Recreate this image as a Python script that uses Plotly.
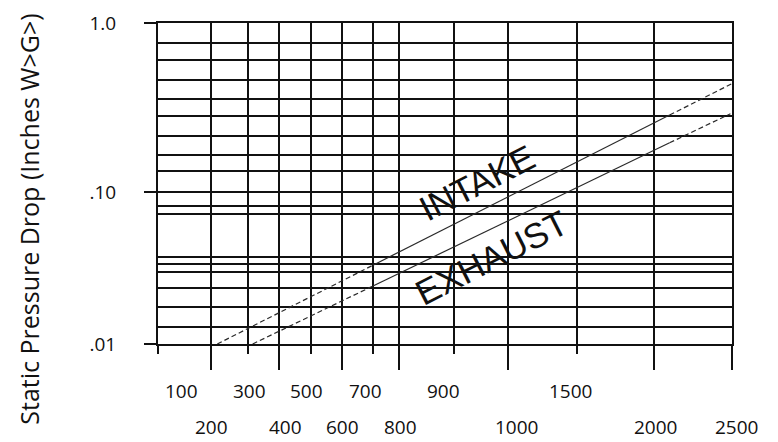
import numpy as np
import plotly.graph_objects as go

# ---------------- data ----------------
cfm_ticks = [100, 200, 300, 400, 500, 600, 700, 800, 900, 1000, 1500, 2000, 2500]
top_row_cfm = [100, 300, 500, 700, 900, 1500]
bottom_row_cfm = [200, 400, 600, 800, 1000, 2000, 2500]

pressure_grid = [0.01, 0.02, 0.03, 0.04, 0.05, 0.06, 0.07, 0.08, 0.09,
                 0.1, 0.2, 0.3, 0.4, 0.5, 0.6, 0.7, 0.8, 0.9, 1.0]
pressure_tick_vals = [0.01, 0.1, 1.0]
pressure_tick_text = [".01", ".10", "1.0"]

intake_cfm = [217, 700, 2100, 2500]
intake_dp = [0.01, 0.0582, 0.504, 0.68]
exhaust_cfm = [315, 700, 2100, 2490]
exhaust_dp = [0.01, 0.0411, 0.365, 0.512]

# ------------- layout of the hand-drawn chart grid (axis units) -------------
XMAX, YMAX = 574.0, 321.0
x_grid_pos = [0, 53, 90, 121, 153, 184, 215, 241, 296, 350, 419, 496, 574]
y_grid_pos = [0, 17.3, 36.6, 56.3, 72, 80.3, 87, 130, 138.3,
              152, 172.6, 189.3, 207.6, 228.3, 244.6, 264.3, 284.3, 301, 321]
x_label_shift = {100: 23.7, 300: 1, 500: -4.3, 700: -8, 900: -11, 1500: -7,
                 200: 0.7, 400: 6, 600: 0.7, 800: 1, 1000: 8, 2000: 1, 2500: 4.7}


def xmap(v):
    return np.interp(v, cfm_ticks, x_grid_pos)


def ymap(v):
    return np.interp(v, pressure_grid, y_grid_pos)


INK = "#111111"
LINE_INK = "#2a2a2a"
XR = [0, XMAX]
YR = [0, YMAX]

fig = go.Figure()


def add_curve(cfm, dp, xa, ya):
    xs = xmap(cfm)
    ys = ymap(dp)
    segs = [(0, 2, "5px,3px"), (1, 3, "solid"), (2, 4, "5px,3px")]
    for a, b, d in segs:
        fig.add_trace(go.Scatter(
            x=xs[a:b], y=ys[a:b], mode="lines", xaxis=xa, yaxis=ya,
            line=dict(color=LINE_INK, width=1.2, dash=d),
            showlegend=False, hoverinfo="skip"))


add_curve(intake_cfm, intake_dp, "x", "y")
add_curve(exhaust_cfm, exhaust_dp, "x2", "y2")

grid_common = dict(showgrid=True, gridcolor=INK, gridwidth=1.6, zeroline=False,
                   showline=True, linecolor=INK, linewidth=1.6, mirror=True,
                   tickcolor=INK, tickwidth=1.6, fixedrange=True,
                   automargin=False)

# the page body adds an 8px offset, so the figure is 8px smaller than the window
fig.update_layout(
    template="none",
    width=770, height=434,
    margin=dict(l=150, r=46, t=15, b=98),
    paper_bgcolor="white", plot_bgcolor="white",
    xaxis=dict(range=XR, tickmode="array",
               tickvals=list(xmap(top_row_cfm)), ticks="outside", ticklen=8,
               showticklabels=False, **grid_common),
    xaxis2=dict(range=XR, overlaying="x", anchor="y", side="bottom",
                tickmode="array", tickvals=list(xmap(bottom_row_cfm)),
                ticks="outside", ticklen=24, showticklabels=False,
                **grid_common),
    yaxis=dict(range=YR, tickmode="array", tickvals=list(ymap(pressure_grid)),
               ticks="", showticklabels=False, **grid_common),
    yaxis2=dict(range=YR, overlaying="y", anchor="x", side="left",
                tickmode="array", tickvals=list(ymap(pressure_tick_vals)),
                ticktext=pressure_tick_text, ticks="outside", ticklen=13,
                ticklabelstandoff=24,
                tickfont=dict(family="Open Sans", size=19, color=INK),
                showgrid=False, zeroline=False, showline=False,
                tickcolor=INK, tickwidth=1.6, fixedrange=True,
                automargin=False),
)

annotations = []
for row_cfm, ypix in ((top_row_cfm, 47.4), (bottom_row_cfm, 83.2)):
    for c in row_cfm:
        annotations.append(dict(
            x=(float(xmap(c)) + x_label_shift[c]) / XMAX, y=-ypix / YMAX,
            xref="paper", yref="paper",
            text=str(c), showarrow=False, xanchor="center", yanchor="middle",
            font=dict(family="Open Sans", size=19, color=INK)))

annotations.append(dict(
    x=-129 / XMAX, y=124.3 / YMAX, xref="paper", yref="paper",
    text="Static Pressure Drop (Inches W>G>)", textangle=-90,
    showarrow=False, xanchor="center", yanchor="middle",
    font=dict(family="Open Sans", size=25, color=INK)))

annotations.append(dict(
    x=319.3, y=161.6, xref="x", yref="y", text="INTAKE", textangle=-27,
    showarrow=False, xanchor="center", yanchor="middle",
    font=dict(family="Liberation Sans", size=35, color=INK)))
annotations.append(dict(
    x=333.7, y=86.3, xref="x", yref="y", text="EXHAUST", textangle=-27,
    showarrow=False, xanchor="center", yanchor="middle",
    font=dict(family="Liberation Sans", size=35, color=INK)))

fig.update_layout(annotations=annotations)

fig.write_html("out.html")
